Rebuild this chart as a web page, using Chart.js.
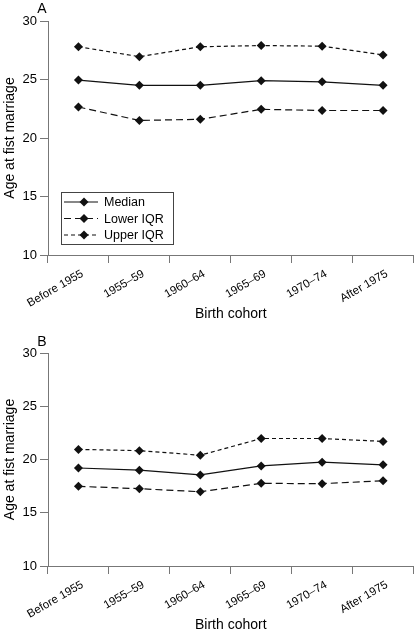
<!DOCTYPE html>
<html>
<head>
<meta charset="utf-8">
<script src="https://cdn.jsdelivr.net/npm/chart.js@4/dist/chart.umd.min.js"></script>
<style>
  html, body { margin: 0; padding: 0; background: #fff; }
  .panel { position: absolute; left: 0; width: 418px; }
  #wrapA { top: 0; height: 323px; }
  #wrapB { top: 323px; height: 311px; }
</style>
</head>
<body>
<div class="panel" id="wrapA"><canvas id="chartA"></canvas></div>
<div class="panel" id="wrapB"><canvas id="chartB"></canvas></div>
<script>
const cohorts = ['Before 1955', '1955–59', '1960–64', '1965–69', '1970–74', 'After 1975'];
const yTicks = [10, 15, 20, 25, 30];
const seriesNames = ['Median', 'Lower IQR', 'Upper IQR'];

// panel A
const medianA = [24.95, 24.5, 24.5, 24.9, 24.8, 24.5];
const lowerA = [22.65, 21.5, 21.6, 22.45, 22.35, 22.35];
const upperA = [27.8, 26.95, 27.8, 27.9, 27.85, 27.1];

// panel B
const medianB = [19.2, 19.0, 18.55, 19.4, 19.75, 19.5];
const lowerB = [17.48, 17.26, 16.97, 17.76, 17.73, 18.0];
const upperB = [20.95, 20.83, 20.4, 21.97, 21.97, 21.7];

const FONT = "'Liberation Sans', Arial, Helvetica, sans-serif";
const INK = '#111';
const AXIS = '#777';
const dashes = [[], [7, 4], [4, 3]];

function makeSet(label, data, i) {
    return {
        label: label,
        data: data,
        borderColor: INK,
        backgroundColor: INK,
        borderWidth: 1.2,
        borderDash: dashes[i],
        pointStyle: 'rectRot',
        pointRadius: 4.5,
        pointHoverRadius: 4.5,
        pointBackgroundColor: INK,
        pointBorderColor: INK,
        pointBorderWidth: 0,
        tension: 0,
        fill: false
    };
}

// panel letter + optional boxed legend
const panelExtras = {
    id: 'panelExtras',
    afterDraw(chart, args, opts) {
        const ctx = chart.ctx;
        ctx.save();
        ctx.fillStyle = '#000';
        ctx.font = '14px ' + FONT;
        ctx.textAlign = 'center';
        ctx.textBaseline = 'middle';
        ctx.fillText(opts.letter, opts.letterX, opts.letterY);

        if (opts.legend) {
            const bx = 61, by = 192, bw = 112, bh = 52;
            ctx.strokeStyle = '#444';
            ctx.lineWidth = 1;
            ctx.strokeRect(bx + 0.5, by + 0.5, bw, bh);
            const sets = chart.data.datasets;
            ctx.font = '12.5px ' + FONT;
            ctx.textAlign = 'left';
            sets.forEach((ds, i) => {
                const y = by + 10 + i * 16.5;
                ctx.strokeStyle = INK;
                ctx.lineWidth = 1.2;
                ctx.setLineDash(ds.borderDash);
                ctx.beginPath();
                ctx.moveTo(bx + 3, y);
                ctx.lineTo(bx + 37, y);
                ctx.stroke();
                ctx.setLineDash([]);
                ctx.fillStyle = INK;
                ctx.beginPath();
                ctx.moveTo(bx + 23, y - 4.5);
                ctx.lineTo(bx + 27.5, y);
                ctx.lineTo(bx + 23, y + 4.5);
                ctx.lineTo(bx + 18.5, y);
                ctx.closePath();
                ctx.fill();
                ctx.fillStyle = '#000';
                ctx.fillText(ds.label, bx + 43, y + 1);
            });
        }
        ctx.restore();
    }
};

function buildChart(id, series, padTop, letterY, withLegend) {
    const ctx = document.getElementById(id).getContext('2d');
    return new Chart(ctx, {
        type: 'line',
        data: {
            labels: cohorts,
            datasets: series.map((d, i) => makeSet(seriesNames[i], d, i))
        },
        options: {
            responsive: true,
            maintainAspectRatio: false,
            animation: false,
            layout: { padding: { top: padTop, right: 4, bottom: 0, left: 0 } },
            plugins: {
                legend: { display: false },
                tooltip: { enabled: false },
                panelExtras: { letter: withLegend ? 'A' : 'B', letterX: 42, letterY: letterY, legend: withLegend }
            },
            scales: {
                x: {
                    type: 'category',
                    offset: true,
                    grid: { offset: true, drawOnChartArea: false, drawTicks: true, tickLength: 8, color: AXIS, lineWidth: 1 },
                    border: { display: true, color: AXIS, width: 1 },
                    ticks: { color: '#000', font: { family: FONT, size: 11.5 }, minRotation: 30, maxRotation: 30, padding: 4, labelOffset: 4, autoSkip: false },
                    title: { display: true, text: 'Birth cohort', color: '#000', font: { family: FONT, size: 14 }, padding: 0 },
                    afterFit(scale) { scale.height = 68; }
                },
                y: {
                    min: 10,
                    max: 30,
                    afterBuildTicks(scale) { scale.ticks = yTicks.map(v => ({ value: v })); },
                    grid: { drawOnChartArea: false, drawTicks: true, tickLength: 8, color: AXIS, lineWidth: 1 },
                    border: { display: true, color: AXIS, width: 1 },
                    ticks: { color: '#000', font: { family: FONT, size: 13 }, padding: 3 },
                    title: { display: true, text: 'Age at fist marriage', color: '#000', font: { family: FONT, size: 14 }, padding: { top: 2, bottom: 0 } },
                    afterFit(scale) { scale.width = 48; }
                }
            }
        },
        plugins: [panelExtras]
    });
}

buildChart('chartA', [medianA, lowerA, upperA], 21, 9, true);
buildChart('chartB', [medianB, lowerB, upperB], 30, 19, false);
</script>
</body>
</html>
